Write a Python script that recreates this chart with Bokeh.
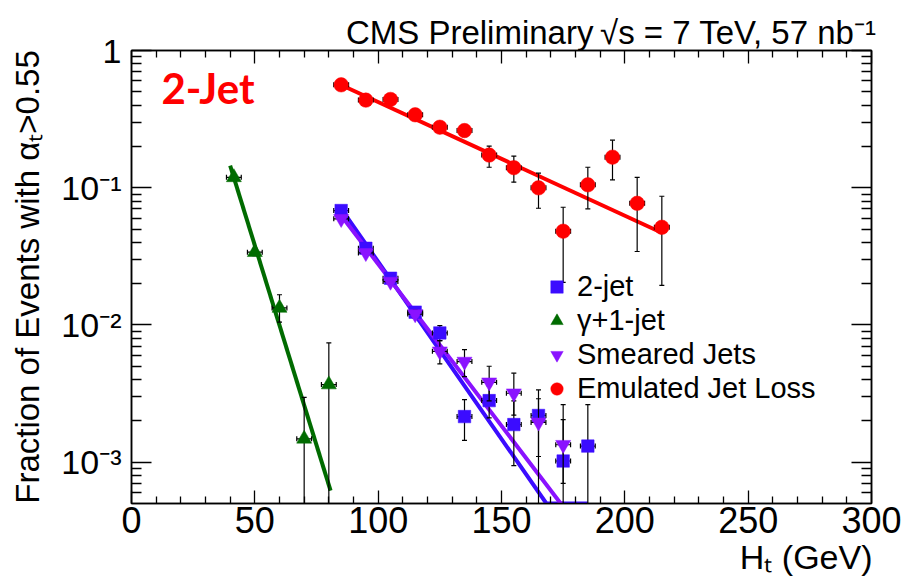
import math
from bokeh.plotting import figure
from bokeh.models import (Range1d, FixedTicker, LogAxis, LinearAxis, Label, Title,
                          Legend, LegendItem, ColumnDataSource, CustomJSTickFormatter)
from bokeh.embed import file_html
from bokeh.resources import INLINE

# ---------------- data ----------------
ht_dijet = [85, 95, 105, 115, 125, 135, 145, 155, 165, 175, 185]
frac_dijet = [0.0682, 0.0362, 0.0219, 0.0124, 0.00875, 0.00215, 0.00281, 0.00188, 0.00219, 0.00102, 0.00131]
frac_dijet_hi = [0.072, 0.0385, 0.0235, 0.0134, 0.0099, 0.00286, 0.0036, 0.0028, 0.00336, 0.00263, 0.00263]
frac_dijet_lo = [0.0645, 0.034, 0.0205, 0.0114, 0.0077, 0.00144, 0.0021, 0.000944, 1e-5, 1e-5, 1e-5]

ht_photon = [41.5, 50, 60, 70, 80]
frac_photon = [0.119, 0.0339, 0.0133, 0.00148, 0.00368]
frac_photon_hi = [0.125, 0.036, 0.0166, 0.00297, 0.0074]
frac_photon_lo = [0.113, 0.032, 0.0105, 1e-5, 1e-5]

ht_smeared = [85, 95, 105, 115, 125, 135, 145, 155, 165, 175]
frac_smeared = [0.0593, 0.0335, 0.0207, 0.0120, 0.00643, 0.00541, 0.00382, 0.00318, 0.00195, 0.00134]
frac_smeared_hi = [0.062, 0.035, 0.0218, 0.0128, 0.0077, 0.0066, 0.005, 0.00445, 0.0029, 0.00204]
frac_smeared_lo = [0.0566, 0.032, 0.0196, 0.0112, 0.0052, 0.0042, 0.0028, 0.0022, 0.0011, 0.0007]

ht_jetloss = [85, 95, 105, 115, 125, 135, 145, 155, 165, 175, 185, 195, 205, 215]
frac_jetloss = [0.562, 0.435, 0.44, 0.34, 0.276, 0.261, 0.173, 0.14, 0.0998, 0.0482, 0.105, 0.167, 0.077, 0.0515]
frac_jetloss_hi = [0.58, 0.452, 0.458, 0.36, 0.298, 0.287, 0.2007, 0.170, 0.1276, 0.0721, 0.141, 0.222, 0.119, 0.0867]
frac_jetloss_lo = [0.545, 0.418, 0.422, 0.32, 0.255, 0.236, 0.141, 0.1097, 0.0709, 0.0204, 0.0702, 0.114, 0.0343, 0.0194]

ht_err = 3.0  # horizontal error half-width

# exponential fit lines (end points, already clipped at the frame bottom like the original)
fit_dijet_x = [85, 168.2, 185]
fit_dijet_y = [0.0705, 5e-4, 5e-4]
fit_smeared_x = [85, 174, 175]
fit_smeared_y = [0.0627, 5e-4, 5e-4]
fit_photon_x = [40, 80.7]
fit_photon_y = [0.145, 6.2e-4]
fit_jetloss_x = [85, 215]
fit_jetloss_y = [0.56, 0.047]

x_major = [0, 50, 100, 150, 200, 250, 300]
y_major = [1e-3, 1e-2, 1e-1, 1]
y_major_labels = {1e-3: "10\u207b\u00b3", 1e-2: "10\u207b\u00b2", 1e-1: "10\u207b\u00b9", 1: "1"}
legend_labels = ["2-jet", "\u03b3+1-jet", "Smeared Jets", "Emulated Jet Loss"]

# ---------------- figure ----------------
FONT = "Liberation Sans"
p = figure(width=906, height=582, x_range=Range1d(0, 300), y_range=Range1d(5e-4, 1),
           y_axis_type="log", output_backend="svg", toolbar_location=None,
           min_border_left=131, min_border_right=35, min_border_top=50, min_border_bottom=79)
p.xgrid.visible = False
p.ygrid.visible = False
p.outline_line_color = "black"
p.outline_line_width = 1.5
p.background_fill_color = "white"
p.border_fill_color = "white"

p.title.text = "CMS Preliminary\u2009\u221as = 7 TeV, 57 nb\u207b\u00b9"
p.title.align = "right"
p.title.offset = -5
p.title.standoff = 0
p.title.text_font = FONT
p.title.text_font_size = "33px"
p.title.text_font_style = "normal"
p.title.text_color = "black"

x_minor = [v for v in range(0, 301, 10) if v % 50 != 0]
y_minor = [m * 10.0 ** e for e in (-4, -3, -2, -1) for m in range(2, 10) if 5e-4 < m * 10.0 ** e < 1]


def style_axis(ax, major_in, minor_in):
    ax.axis_line_color = "black"
    ax.axis_line_width = 1.5
    ax.major_tick_line_color = "black"
    ax.major_tick_line_width = 1.3
    ax.minor_tick_line_color = "black"
    ax.minor_tick_line_width = 1.3
    ax.major_tick_in = major_in
    ax.major_tick_out = 0
    ax.minor_tick_in = minor_in
    ax.minor_tick_out = 0
    ax.major_label_text_font = FONT
    ax.major_label_text_color = "black"
    ax.axis_label_text_font = FONT
    ax.axis_label_text_font_style = "normal"
    ax.axis_label_text_color = "black"


xa = p.xaxis[0]
xa.ticker = FixedTicker(ticks=x_major, minor_ticks=x_minor)
style_axis(xa, 13, 7)
xa.major_label_text_font_size = "36px"
xa.major_label_text_line_height = 0.9
xa.major_label_standoff = 3

ya = p.yaxis[0]
ya.ticker = FixedTicker(ticks=y_major, minor_ticks=y_minor)
style_axis(ya, 20, 10)
ya.major_label_text_font_size = "34px"
ya.major_label_standoff = 10
ya.major_label_overrides = y_major_labels
ya.axis_label = "Fraction of Events with \u03b1\u209c>0.55"
ya.axis_label_text_font_size = "33px"
ya.axis_label_text_line_height = 0.9
ya.axis_label_standoff = 12

top = LinearAxis(ticker=FixedTicker(ticks=x_major, minor_ticks=x_minor),
                 formatter=CustomJSTickFormatter(code="return ''"))
style_axis(top, 13, 7)
top.major_label_standoff = 0
p.add_layout(top, "above")

right = LogAxis(ticker=FixedTicker(ticks=y_major, minor_ticks=y_minor),
                formatter=CustomJSTickFormatter(code="return ''"))
style_axis(right, 20, 10)
right.major_label_standoff = 0
p.add_layout(right, "right")

# x-axis title, right aligned under the axis
p.add_layout(Title(text="H\u209c (GeV)", align="right", offset=-1, standoff=0,
                   text_font=FONT, text_font_size="34px", text_font_style="normal",
                   text_color="black", text_line_height=0.8), "below")

# ---------------- series ----------------
BLUE = "#3b0cff"
PURPLE = "#8a12ff"
GREEN = "#006b00"
RED = "#ff0000"

series = [
    (ht_photon, frac_photon, frac_photon_hi, frac_photon_lo, GREEN, "triangle", 15),
    (ht_dijet, frac_dijet, frac_dijet_hi, frac_dijet_lo, BLUE, "square", 12.5),
    (ht_smeared, frac_smeared, frac_smeared_hi, frac_smeared_lo, PURPLE, "inverted_triangle", 15),
    (ht_jetloss, frac_jetloss, frac_jetloss_hi, frac_jetloss_lo, RED, "circle", 14.5),
]

p.line(fit_photon_x, fit_photon_y, line_color=GREEN, line_width=4)
p.line(fit_dijet_x, fit_dijet_y, line_color=BLUE, line_width=4)
p.line(fit_smeared_x, fit_smeared_y, line_color=PURPLE, line_width=4)
p.line(fit_jetloss_x, fit_jetloss_y, line_color=RED, line_width=4)

renderers = {}
for xs, ys, hi, lo, col, mk, sz in series:
    src = ColumnDataSource(dict(x=xs, y=ys, hi=hi, lo=lo,
                                xl=[v - ht_err for v in xs], xr=[v + ht_err for v in xs]))
    p.segment(x0="x", y0="lo", x1="x", y1="hi", source=src, line_color="black", line_width=1.2)
    p.segment(x0="xl", y0="y", x1="xr", y1="y", source=src, line_color="black", line_width=1.2)
    p.scatter(x="x", y="hi", source=src, marker="dash", size=5, line_color="black", line_width=1.2)
    p.scatter(x="x", y="lo", source=src, marker="dash", size=5, line_color="black", line_width=1.2)
    p.scatter(x="xl", y="y", source=src, marker="dash", size=5, angle=math.pi / 2,
              line_color="black", line_width=1.2)
    p.scatter(x="xr", y="y", source=src, marker="dash", size=5, angle=math.pi / 2,
              line_color="black", line_width=1.2)
    renderers[col] = p.scatter(x="x", y="y", source=src, marker=mk, size=sz,
                               fill_color=col, line_color=col, line_width=0.5)

# "2-Jet" tag inside the frame (screen units relative to the frame, centred vertically)
p.add_layout(Label(x=30, y=416, x_units="screen", y_units="screen", text="2-Jet",
                   text_font="Lato", text_font_size="42px", text_font_style="bold",
                   text_color=RED, text_align="left", text_baseline="middle"))

# legend: one single-entry legend per row so the rows can sit as tightly as in the original
legend_rows = [(legend_labels[0], BLUE, 200), (legend_labels[1], GREEN, 166),
               (legend_labels[2], PURPLE, 132), (legend_labels[3], RED, 98)]
for text, col, ypos in legend_rows:
    p.add_layout(Legend(items=[LegendItem(label=text, renderers=[renderers[col]])],
                        location=(410, ypos), glyph_width=31, glyph_height=31, label_standoff=5,
                        spacing=0, padding=0, margin=0, background_fill_alpha=0,
                        border_line_alpha=0, label_text_font=FONT, label_text_font_size="29px",
                        label_text_color="black"))

open("out.html", "w").write(file_html(p, INLINE))
